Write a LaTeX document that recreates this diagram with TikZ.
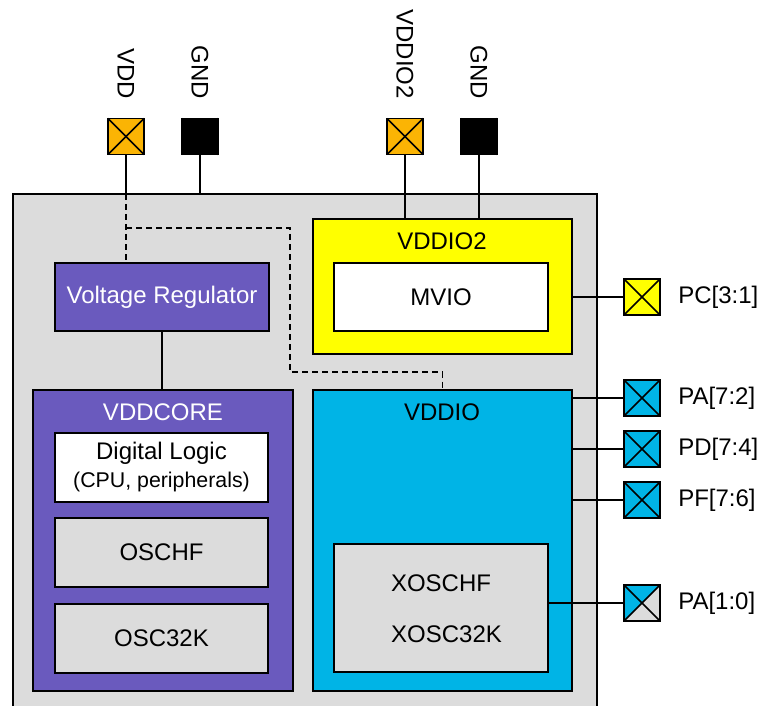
\documentclass[tikz,border=0pt]{standalone}
\usepackage{fontspec}
\setmainfont{Liberation Sans}
\definecolor{chipgray}{HTML}{DCDCDC}
\definecolor{corepurple}{HTML}{6A5ABE}
\definecolor{iocyan}{HTML}{00B4E6}
\definecolor{supplyorange}{HTML}{FBB404}
\definecolor{domainyellow}{HTML}{FFFF00}
\tikzset{
  blockbox/.style n args={2}{draw,line width=1.5pt,outer sep=0pt,inner sep=0pt,
    minimum width=#1*0.75pt,minimum height=#2*0.75pt,align=center},
  padbox/.style={draw,line width=1.2pt,outer sep=0pt,inner sep=0pt,minimum size=27pt},
  wire/.style={line width=1.3pt},
  caption/.style={font=\fontsize{18}{21}\selectfont},
}
\begin{document}
\begin{tikzpicture}[x=0.75pt,y=-0.75pt,caption]
    \useasboundingbox (0,0) rectangle (757,706);
    \clip (0,0) rectangle (757,706);
    % chip and power domains
    \node[blockbox={584}{536},fill=chipgray,line width=1pt] (chip) at (305,462) {};
    \node[blockbox={259}{135},fill=domainyellow] (vddiotwo) at (442.5,286.5) {};
    \node[blockbox={214}{68},fill=white] (mvio) at (441,297) {MVIO};
    \node[blockbox={214}{68},fill=corepurple,text=white] (reg) at (162,297) {Voltage Regulator};
    \node[blockbox={260}{301},fill=corepurple] (core) at (163,540.5) {};
    \node[blockbox={213}{69},fill=white] (logic) at (161.5,467.5) {};
    \node[blockbox={213}{69},fill=chipgray] (oschf) at (161.5,552.5) {OSCHF};
    \node[blockbox={213}{69},fill=chipgray] (osclow) at (161.5,638) {OSC32K};
    \node[blockbox={259}{301},fill=iocyan] (vddio) at (442.5,540.5) {};
    \node[blockbox={214}{128},fill=chipgray] (xosc) at (441,608) {};
    % captions inside the blocks
    \node (vddiotwotxt) at (442,241) {VDDIO2};
    \node[text=white] (coretxt) at (163,412) {VDDCORE};
    \node (vddiotxt) at (442,412) {VDDIO};
    \node (logictxt) at (161.5,453) {Digital Logic};
    \node[font=\fontsize{16}{19}\selectfont] (cputxt) at (161.5,481.5) {(CPU, peripherals)};
    \node (xoschftxt) at (441,583) {XOSCHF};
    \node (xosclowtxt) at (446.5,634) {XOSC32K};
    % supply pads
    \foreach \name/\xpos/\col/\val in {
        vdd/126/supplyorange/VDD,
        gnda/200/black/GND,
        vddpin/405/supplyorange/VDDIO2,
        gndb/479/black/GND%
  } {
    \node[padbox,fill=\col] (\name) at (\xpos,136.5) {};
    \draw[wire] (\name.north west) -- (\name.south east);
    \draw[wire] (\name.north east) -- (\name.south west);
    \node[rotate=-90,anchor=east,inner sep=0pt] (\name txt) at (\xpos,99) {\val};
  }
    % port pads
    \foreach \name/\ypos/\col/\val in {
        pc/297/domainyellow/{PC[3:1]},
        paa/398/iocyan/{PA[7:2]},
        pd/449/iocyan/{PD[7:4]},
        pf/500/iocyan/{PF[7:6]},
        pab/603/iocyan/{PA[1:0]}%
  } {
    \node[padbox,fill=\col] (\name) at (642,\ypos) {};
    \node[anchor=base west,inner sep=0pt] (\name txt) at (678,\ypos+6.5) {\val};
  }
    \fill[chipgray] (pab.north east) -- (pab.center) -- (pab.south west) -- (pab.south east) -- cycle;
    \draw[line width=1.2pt] (pab.south west) rectangle (pab.north east);
    \foreach \name in {pc,paa,pd,pf,pab} {
    \draw[wire] (\name.north west) -- (\name.south east);
    \draw[wire] (\name.north east) -- (\name.south west);
  }
    % connectors
    \coordinate (split) at (126,228);
    \coordinate (benda) at (290,228);
    \coordinate (bendb) at (290,372);
    \draw[wire] (vdd.south) -- (vdd.south |- chip.north);
    \draw[wire] (gnda.south) -- (gnda.south |- chip.north);
    \draw[wire] (vddpin.south) -- (vddpin.south |- vddiotwo.north);
    \draw[wire] (gndb.south) -- (gndb.south |- vddiotwo.north);
    \draw[wire,dash pattern=on 4.5pt off 3pt] (vdd.south |- chip.north) -- (vdd.south |- reg.north);
    \draw[wire,dash pattern=on 4.5pt off 3pt] (split) -- (benda) -- (bendb) -| (vddio.north);
    \draw[wire] (reg.south) -- (reg.south |- core.north);
    \draw[wire] (pc.west) -- (pc.west -| vddiotwo.east);
    \draw[wire] (paa.west) -- (paa.west -| vddio.east);
    \draw[wire] (pd.west) -- (pd.west -| vddio.east);
    \draw[wire] (pf.west) -- (pf.west -| vddio.east);
    \draw[wire] (pab.west) -- (pab.west -| xosc.east);
\end{tikzpicture}
\end{document}
